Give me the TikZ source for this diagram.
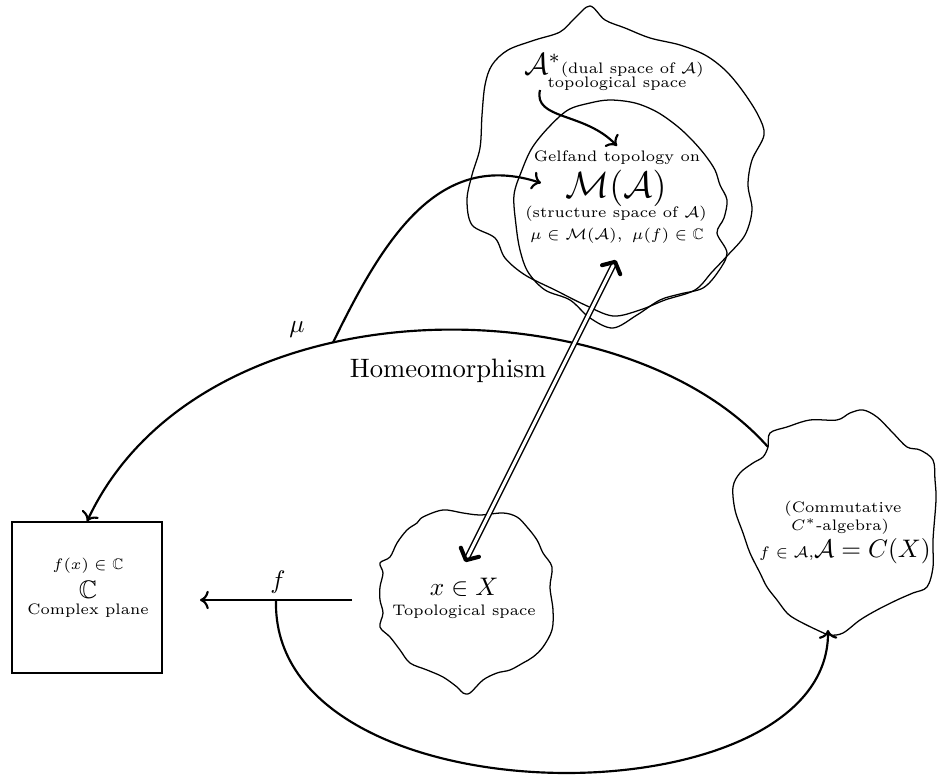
\documentclass[tikz,border=0pt]{standalone}
\usepackage{amsmath,amssymb}
\usetikzlibrary{arrows.meta}
\newcommand{\smt}{\fontsize{6}{7.2}\selectfont}
\begin{document}
\begin{tikzpicture}[x=0.013859cm,y=-0.013859cm,
  blob/.style={line width=0.5pt},
  conn/.style={line width=0.85pt,->},
  dbl/.style={double, double distance=1.2pt, line width=0.55pt,
    {Straight Barb[length=3.5pt,width=8pt,line width=1.6pt,round]}-{Straight Barb[length=3.5pt,width=8pt,line width=1.6pt,round]}},
  lbl/.style={inner sep=0pt, align=center},
]
\useasboundingbox (0,0) rectangle (938,776);

% outer blob (dual space)
\draw[blob] plot[smooth cycle, tension=0.55] coordinates {
(590,6) (605,20) (625,28) (650,38) (680,45) (705,55) (725,70) (742,90) (758,115)
(764,135) (752,160) (748,185) (752,210) (745,235) (728,255) (712,272) (695,290)
(665,300) (640,310) (613,316) (585,305) (555,290) (525,275) (505,258) (495,238)
(472,225) (467,200) (472,175) (480,148) (482,115) (485,85) (492,65) (508,50)
(535,40) (560,32) (575,18)};

% inner blob (structure space)
\draw[blob] plot[smooth cycle, tension=0.55] coordinates {
(610,100) (635,103) (657,112) (677,126) (692,140) (705,155) (715,170) (720,185)
(727,200) (724,218) (717,233) (727,253) (718,272) (703,288) (680,294) (660,300)
(637,315) (613,328) (590,318) (570,300) (545,290) (528,272) (520,250) (516,225)
(514,195) (522,170) (532,148) (548,128) (568,110) (590,103)};

% blob X
\draw[blob] plot[smooth cycle, tension=0.55] coordinates {
(423,517) (443,510) (463,513) (480,515) (503,513) (517,517) (527,527) (537,540)
(543,553) (552,567) (550,587) (553,610) (552,630) (543,647) (533,657) (523,663)
(510,670) (497,673) (483,680) (470,693) (463,693) (457,687) (443,677) (427,670)
(410,663) (400,650) (390,637) (380,627) (383,613) (380,600) (380,587) (383,573)
(380,563) (390,557) (397,543) (407,530) (417,523)};

% blob A
\draw[blob] plot[smooth cycle, tension=0.55] coordinates {
(768,447) (770,433) (787,427) (810,420) (837,420) (850,413) (863,410) (877,417)
(893,433) (907,447) (920,450) (933,460) (935,480) (936,500) (933,540) (933,567)
(927,587) (913,593) (897,600) (877,610) (860,620) (843,633) (830,635) (817,630)
(797,620) (787,613) (777,600) (767,587) (760,573) (750,553) (743,533) (735,510)
(733,487) (740,473) (753,463) (763,457)};

% C box
\node[draw, line width=0.5pt, inner sep=0pt,
      minimum width=2.08cm, minimum height=2.09cm] (cbox) at (87,597.5) {};

% texts
\node[lbl, anchor=base west] (dual) at (524,75) {\large$\mathcal{A}^*$\normalsize\raisebox{0.5pt}{\smt(dual space of $\mathcal{A}$)}};
\node[lbl, anchor=base] (topo) at (617,88) {\smt topological space};
\node[lbl, anchor=base] (gelf) at (617,162) {\smt Gelfand topology on};
\node[lbl, anchor=base] (mA) at (616,198) {\Large$\mathcal{M}(\mathcal{A})$};
\node[lbl, anchor=base] (struc) at (616,218) {\smt(structure space of $\mathcal{A}$)};
\node[lbl, anchor=base] (muin) at (617,240) {\smt$\mu\in\mathcal{M}(\mathcal{A}),\ \mu(f)\in\mathbb{C}$};

\node[lbl, anchor=base] (fx) at (88,570) {\smt$f(x)\in\mathbb{C}$};
\node[lbl, anchor=base] (CC) at (88,599) {$\mathbb{C}$};
\node[lbl, anchor=base] (cpl) at (88,615) {\smt Complex plane};

\node[lbl, anchor=base] (xX) at (464,596) {$x\in X$};
\node[lbl, anchor=base] (tsp) at (464,616) {\smt Topological space};

\node[lbl, anchor=base] (comm) at (843,513) {\smt(Commutative};
\node[lbl, anchor=base] (cst) at (840,531) {\smt$C^*$-algebra)};
\node[lbl, anchor=base] (alg) at (845,558) {{\smt$f\in\mathcal{A}$,}$\mathcal{A}=C(X)$};

\node[lbl, anchor=base] (homeo) at (448,378) {\fontsize{10.5}{12}\selectfont Homeomorphism};
\node[lbl] (mulbl) at (297,330) {$\mu$};
\node[lbl] (flbl) at (278,582) {$f$};

% connector end points
\coordinate (astart) at (540,90);
\coordinate (aend) at (617,146);
\coordinate (Aleft) at (768,447);
\coordinate (Min) at (541,183);
\coordinate (fstart) at (352,600);
\coordinate (fend) at (200,600);
\coordinate (Abot) at (828,630);
\coordinate (xtip) at (465,562);
\coordinate (mtip) at (616,260);

% connectors
\draw[conn] (astart) .. controls (533,120) and (585,112) .. (aend);
\draw[conn] (Aleft) .. controls (620,280) and (200,280) .. (cbox.north) coordinate[pos=0.6] (mu0);
\draw[conn] (mu0) .. controls (385,235) and (440,150) .. (Min);
\draw[conn] (fstart) -- (fend) coordinate[pos=0.5] (fmid);
\draw[conn] (fmid) .. controls (270,825) and (830,825) .. (Abot);
\draw[dbl] (xtip) -- (mtip);
\end{tikzpicture}
\end{document}
